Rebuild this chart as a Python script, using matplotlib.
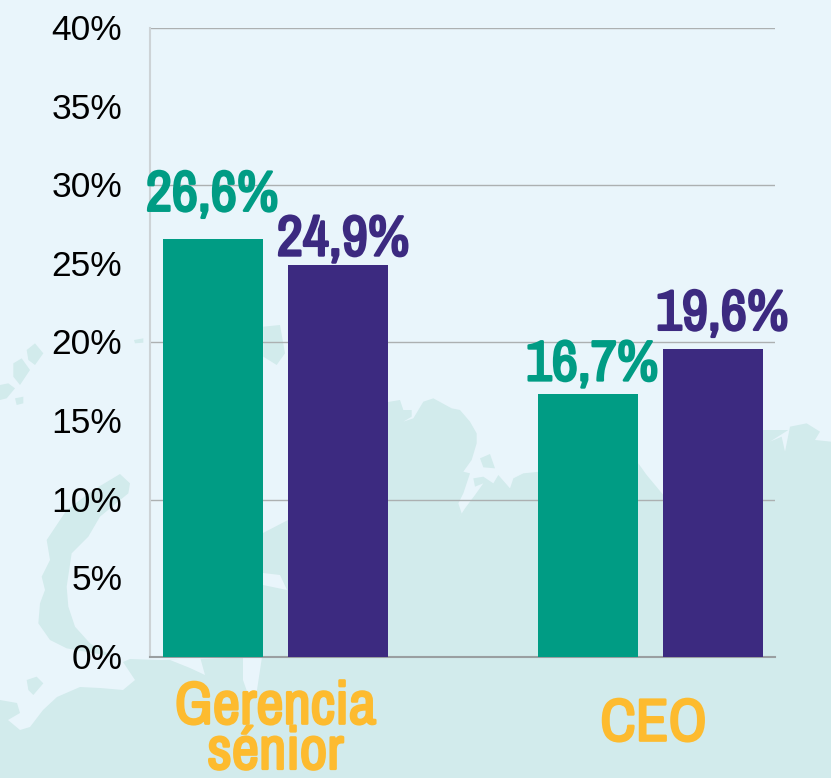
import matplotlib
matplotlib.use("Agg")
import matplotlib.pyplot as plt
from matplotlib.patches import Polygon
from matplotlib.transforms import Affine2D
import matplotlib.patheffects as pe

W, H = 831, 778
categories = ["Gerencia\nsénior", "CEO"]
series_a = [26.6, 16.7]
series_b = [24.9, 19.6]
labels_a = ["26,6%", "16,7%"]
labels_b = ["24,9%", "19,6%"]
yticks = [0, 5, 10, 15, 20, 25, 30, 35, 40]
ytick_labels = ["0%", "5%", "10%", "15%", "20%", "25%", "30%", "35%", "40%"]

# pixel nudges of the value labels relative to the top centre of their bar
nudge_a = [(-1, 28), (4, 14)]
nudge_b = [(5, 10), (9, 19)]

BG, LAND = "#E9F5FB", "#D2EBEC"
GREEN, PURPLE, YELLOW = "#009C84", "#3C2A80", "#FDBB2F"
NARROW = ["Archivo Narrow", "Liberation Sans"]

fig = plt.figure(figsize=(W / 100, H / 100), dpi=100, facecolor=BG)


def z1(pts):
    return [(x / 3, 320 + y / 3) for x, y in pts]


def z2(pts):
    return [(380 + x / 3, 380 + y / 3) for x, y in pts]


# decorative map silhouette behind the chart (pixels, y down)
main_land = (
    [(831, 778), (0, 778), (0, 700), (17, 703), (20, 713), (8, 720), (20, 730), (30, 727), (43, 710),
     (57, 697), (80, 687), (100, 688), (123, 690), (135, 680), (123, 662), (130, 659), (160, 660),
     (262, 657), (263, 533), (288, 520), (388, 402)]
    + z2([(60, 60), (70, 90), (95, 90), (95, 110), (70, 125), (100, 115), (130, 65), (160, 55), (215, 85),
          (240, 90), (270, 125), (290, 160), (290, 190), (275, 240), (250, 275), (270, 280), (250, 340),
          (235, 370), (245, 400), (225, 432), (255, 385), (285, 345), (310, 310), (285, 320), (280, 295),
          (310, 290), (340, 310), (355, 285), (390, 325), (400, 295), (430, 280), (480, 275), (775, 270),
          (775, 250), (800, 285), (850, 345), (1150, 150), (1225, 150), (1170, 185), (1205, 170),
          (1215, 215), (1230, 140), (1280, 130), (1320, 155), (1305, 180), (1353, 185)])
)
islands = [
    z1([(360, 462), (390, 490), (385, 520), (300, 590), (265, 650), (215, 700), (200, 800), (205, 860),
        (225, 920), (270, 970), (340, 1010), (200, 985), (150, 960), (115, 910), (120, 850), (135, 810),
        (125, 770), (150, 720), (140, 660), (180, 600), (200, 570), (280, 510)]),
    z1([(80, 90), (105, 70), (130, 100), (105, 135), (85, 120)]),
    z1([(40, 130), (65, 115), (90, 150), (60, 195), (40, 170)]),
    z1([(0, 195), (25, 190), (45, 205), (20, 235), (0, 240)]),
    z1([(45, 235), (70, 230), (70, 250), (50, 255)]),
    z1([(402, 60), (430, 55), (430, 68), (405, 70)]),
    z1([(80, 1080), (110, 1070), (130, 1090), (100, 1125), (85, 1110)]),
    z1([(790, 20), (840, 15), (855, 100), (830, 135), (790, 110)]),
    z2([(300, 235), (330, 222), (345, 265), (310, 262)]),
]
holes = [
    [(243, 657), (262, 657), (257, 690), (250, 700), (243, 680)],
    [(170, 660), (200, 657), (205, 675), (190, 668)],
    [(263, 573), (280, 575), (287, 590), (263, 585)],
]
for poly, colour, z in [(main_land, LAND, 0)] + [(p, LAND, 0) for p in islands] + [(p, BG, 0.5) for p in holes]:
    fig.add_artist(Polygon([(x / W, 1 - y / H) for x, y in poly], closed=True,
                           transform=fig.transFigure, facecolor=colour, edgecolor="none", zorder=z))

ax = fig.add_axes([150 / W, 1 - 657 / H, 625 / W, 629 / H])
ax.patch.set_alpha(0)
ax.set_zorder(2)

width = 100 / 375
offset = 62.5 / 375
xs = list(range(len(categories)))
bars_a = ax.bar([x - offset for x in xs], series_a, width, color=GREEN, zorder=3)
bars_b = ax.bar([x + offset for x in xs], series_b, width, color=PURPLE, zorder=3)

label_font = dict(family=NARROW, fontweight="bold", fontsize=41, ha="center", va="baseline", zorder=4)
for bars, texts, nudges, colour in [(bars_a, labels_a, nudge_a, GREEN), (bars_b, labels_b, nudge_b, PURPLE)]:
    for b, t, n in zip(bars, texts, nudges):
        a = ax.annotate(t, (b.get_x() + b.get_width() / 2, b.get_height()), xytext=n,
                        textcoords="offset pixels", color=colour, **label_font)
        a.set_path_effects([pe.withStroke(linewidth=1.8, foreground=colour)])

ax.set_xlim((150 - 275.5) / 375, (775 - 275.5) / 375)
ax.set_ylim(0, 40)
ax.set_yticks(yticks)
ax.set_yticklabels(ytick_labels, family="Liberation Sans", fontsize=25.5, color="#000000")
ax.tick_params(axis="y", length=0, pad=20)
for lab in ax.get_yticklabels():
    lab.set_transform(lab.get_transform() + Affine2D().translate(0, 1))
ax.set_xticks(xs)
ax.set_xticklabels(categories, family=NARROW, fontweight="bold", fontsize=43, color=YELLOW, linespacing=0.82)
ax.tick_params(axis="x", length=0, pad=17)
for lab in ax.get_xticklabels():
    lab.set_path_effects([pe.withStroke(linewidth=1.8, foreground=YELLOW)])
ceo = ax.get_xticklabels()[1]
ceo.set_y(-0.027)
ceo.set_transform(ceo.get_transform() + Affine2D().translate(3, 0))

ax.yaxis.grid(True, color="#ACB0B1", linewidth=1.0, zorder=1)
for gl, t in zip(ax.yaxis.get_gridlines(), yticks):
    gl.set_visible(t % 10 == 0)
ax.set_axisbelow(True)
for s in ["top", "right"]:
    ax.spines[s].set_visible(False)
ax.spines["left"].set_color("#CDD3D6")
ax.spines["left"].set_linewidth(1.5)
ax.spines["bottom"].set_color("#9A9FA1")
ax.spines["bottom"].set_linewidth(1.5)

fig.savefig("out.png", dpi=100, facecolor=BG)
